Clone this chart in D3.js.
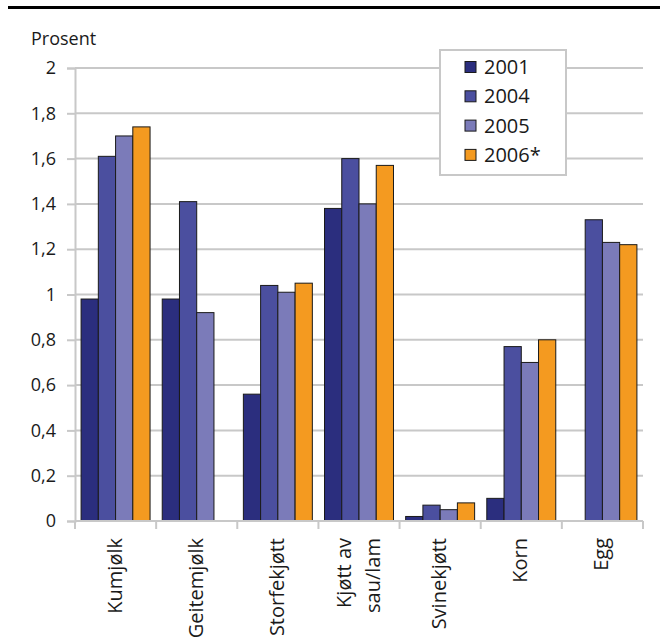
<!DOCTYPE html>
<html><head><meta charset="utf-8">
<script src="https://cdn.jsdelivr.net/npm/d3@7"></script>
<style>
body{margin:0;background:#fff;}
text{font-family:"Open Sans",sans-serif;fill:#1a1a1a;}
</style></head>
<body><svg id="c" width="667" height="637"></svg>
<script>
const categories = ["Kumjølk","Geitemjølk","Storfekjøtt","Kjøtt av|sau/lam","Svinekjøtt","Korn","Egg"];
const seriesNames = ["2001","2004","2005","2006*"];
const v2001 = [0.98,0.98,0.56,1.38,0.02,0.10,null];
const v2004 = [1.61,1.41,1.04,1.60,0.07,0.77,1.33];
const v2005 = [1.70,0.92,1.01,1.40,0.05,0.70,1.23];
const v2006 = [1.74,null,1.05,1.57,0.08,0.80,1.22];
const yTicks = [0,0.2,0.4,0.6,0.8,1,1.2,1.4,1.6,1.8,2];
const colors = ["#2b2e7e","#4b4f9f","#7b7bb9","#f49a20"];
const series = [v2001,v2004,v2005,v2006];

(function(){
const svg = d3.select("#c");
const pL=75, pR=643, pT=68, pB=521;

svg.append("line").attr("x1",8).attr("x2",660).attr("y1",7.5).attr("y2",7.5)
  .attr("stroke","#000").attr("stroke-width",3);

const y = d3.scaleLinear().domain([0,2]).range([pB,pT]);
const x = d3.scaleBand().domain(categories).range([pL,pR]).paddingInner(0.15).paddingOuter(0.075);
const xs = d3.scaleBand().domain(seriesNames).range([0,x.bandwidth()]);

svg.append("g").selectAll("line").data(yTicks.filter(d=>d>0)).join("line")
  .attr("x1",pL).attr("x2",pR).attr("y1",d=>y(d)).attr("y2",d=>y(d))
  .attr("stroke","#c8c8c8").attr("stroke-width",2);

const yAxis = d3.axisLeft(y).tickValues(yTicks).tickSize(8).tickPadding(11)
  .tickFormat(d=>String(d).replace(".",","));
const gy = svg.append("g").attr("transform",`translate(${pL},0)`).call(yAxis);
gy.select(".domain").attr("stroke","#c8c8c8").attr("stroke-width",2);
gy.selectAll(".tick line").attr("stroke","#c8c8c8").attr("stroke-width",2);
gy.selectAll(".tick text").attr("font-size",18).attr("fill","#1a1a1a").style("font-family","'Open Sans',sans-serif");

svg.append("text").attr("x",31).attr("y",45).attr("font-size",18).text("Prosent");

const groups = svg.append("g").selectAll("g").data(series).join("g")
  .attr("fill",(d,i)=>colors[i]);
groups.each(function(vals,si){
  d3.select(this).selectAll("rect").data(vals.map((v,i)=>({v,c:categories[i]})).filter(d=>d.v!=null))
    .join("rect")
    .attr("x",d=>x(d.c)+xs(seriesNames[si]))
    .attr("width",xs.bandwidth())
    .attr("y",d=>y(d.v))
    .attr("height",d=>pB-y(d.v))
    .attr("stroke","#1a1a1a").attr("stroke-width",1);
});

const xg = svg.append("g");
xg.append("line").attr("x1",pL).attr("x2",pR).attr("y1",pB).attr("y2",pB)
  .attr("stroke","#c8c8c8").attr("stroke-width",2);
const tickPos = categories.map(c=>x(c)-x.step()*x.paddingInner()/2).concat([pR]);
xg.selectAll("line.t").data(tickPos).join("line").attr("class","t")
  .attr("x1",d=>d).attr("x2",d=>d).attr("y1",pB).attr("y2",pB+8)
  .attr("stroke","#c8c8c8").attr("stroke-width",2);

categories.forEach(c=>{
  const lines = c.split("|");
  const cx = x(c)+x.bandwidth()/2;
  const t = svg.append("text").attr("transform",`translate(${cx},538) rotate(-90)`)
    .attr("text-anchor","end").attr("font-size",20);
  const lh = 29;
  lines.forEach((l,i)=>{
    t.append("tspan").attr("x",0).attr("y",(i-(lines.length-1)/2)*lh - 1).attr("dy","0.35em").text(l);
  });
});

const lg = svg.append("g");
lg.append("rect").attr("x",440).attr("y",50).attr("width",126).attr("height",125)
  .attr("fill","#fff").attr("stroke","#c8c8c8").attr("stroke-width",2);
seriesNames.forEach((s,i)=>{
  const cy = 67+i*29.3;
  lg.append("rect").attr("x",465).attr("y",cy-5.5).attr("width",11).attr("height",11)
    .attr("fill",colors[i]).attr("stroke","#1a1a1a").attr("stroke-width",1);
  lg.append("text").attr("x",484).attr("y",cy).attr("dy","0.35em").attr("font-size",20).text(s);
});
})();
</script></body></html>
